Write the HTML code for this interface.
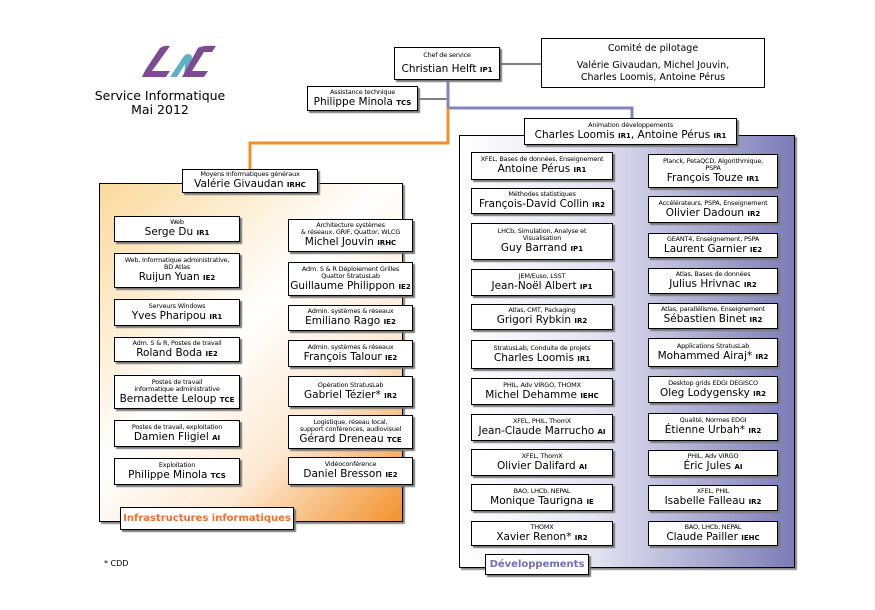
<!DOCTYPE html>
<html><head><meta charset="utf-8"><style>
body{margin:0;width:875px;height:610px;background:#fff;position:relative;overflow:hidden;font-family:"DejaVu Sans","Liberation Sans",sans-serif;color:#000}
.b{position:absolute;border:1px solid #000;background:#fff;box-shadow:2px 2px 1px #777;display:flex;flex-direction:column;align-items:center;justify-content:center;text-align:center;box-sizing:border-box;line-height:1.1}
.s{font-size:6.5px;letter-spacing:-0.2px}
.n{font-size:10.5px;margin-top:1px}
.g{font-size:7px;font-weight:bold}
.l{position:absolute}
</style></head><body>
<svg class="l" style="left:0;top:0" width="875" height="610">
<polyline points="500,64 541,64" stroke="#000" fill="none"/>
<polyline points="418,99 447,99" stroke="#000" fill="none"/>
<polyline points="448,80 448,108 632,108 632,120" stroke="#8383c0" stroke-width="3" fill="none"/>
<polyline points="448,108 448,143 250,143 250,170" stroke="#f0902a" stroke-width="3" fill="none"/>
<g transform="translate(140,44)">
<path d="M20,4 Q24,1 30,2 L12,27 L30,27 L26,33 L2,33 Q4,28 8,22 Z" fill="#7e4a92"/>
<path d="M30,33 L44,12 Q48,8 52,12 L50,33 L44,33 L45,20 L37,33 Z" fill="#5fb0c0"/>
<path d="M58,4 Q62,1 76,2 L72,8 L64,8 L52,27 L68,27 L64,33 L42,33 Z" fill="#7e4a92"/>
</g>
</svg>
<div class="l" style="left:85px;top:89px;width:150px;text-align:center;font-size:12.5px;line-height:14px">Service Informatique<br>Mai 2012</div>
<div class="l" style="left:104px;top:559px;font-size:8px">* CDD</div>

<div class="b" style="left:394px;top:47px;width:106px;height:33px"><span class="s">Chef de service</span><span class="n" style="margin-top:5px">Christian Helft <span class="g">IP1</span></span></div>
<div class="b" style="left:541px;top:38px;width:224px;height:50px;font-size:9.5px;line-height:12px;box-shadow:none"><div>Comité de pilotage</div><div style="margin-top:5px">Valérie Givaudan, Michel Jouvin,<br>Charles Loomis, Antoine Pérus</div></div>
<div class="b" style="left:307px;top:86px;width:111px;height:25px"><span class="s">Assistance technique</span><span class="n">Philippe Minola <span class="g">TCS</span></span></div>

<div class="b" style="left:99px;top:183px;width:304px;height:339px;background:linear-gradient(135deg,#fbd99a 0%,#fff 45%,#fde9d2 70%,#f2922e 100%);box-shadow:2px 2px 1px #888"></div>
<div class="b" style="left:182px;top:169px;width:136px;height:24px"><span class="s">Moyens Informatiques généraux</span><span class="n">Valérie Givaudan <span class="g">IRHC</span></span></div>
<div class="b" style="left:120px;top:507px;width:174px;height:23px;color:#f07030;font-weight:bold;font-size:10px">Infrastructures informatiques</div>

<div class="b" style="left:114px;top:216px;width:126px;height:26px"><span class="s">Web</span><span class="n">Serge Du <span class="g">IR1</span></span></div>
<div class="b" style="left:114px;top:253px;width:126px;height:35px"><span class="s">Web, Informatique administrative,<br>BD Atlas</span><span class="n">Ruijun Yuan <span class="g">IE2</span></span></div>
<div class="b" style="left:114px;top:299px;width:126px;height:27px"><span class="s">Serveurs Windows</span><span class="n">Yves Pharipou <span class="g">IR1</span></span></div>
<div class="b" style="left:114px;top:337px;width:126px;height:25px"><span class="s">Adm. S &amp; R, Postes de travail</span><span class="n">Roland Boda <span class="g">IE2</span></span></div>
<div class="b" style="left:114px;top:375px;width:126px;height:34px"><span class="s">Postes de travail<br>informatique administrative</span><span class="n">Bernadette Leloup <span class="g">TCE</span></span></div>
<div class="b" style="left:114px;top:420px;width:126px;height:27px"><span class="s">Postes de travail, exploitation</span><span class="n">Damien Fligiel <span class="g">AI</span></span></div>
<div class="b" style="left:114px;top:458px;width:126px;height:27px"><span class="s">Exploitation</span><span class="n">Philippe Minola <span class="g">TCS</span></span></div>

<div class="b" style="left:288px;top:219px;width:125px;height:33px"><span class="s">Architecture systèmes<br>&amp; réseaux, GRIF, Quattor, WLCG</span><span class="n">Michel Jouvin <span class="g">IRHC</span></span></div>
<div class="b" style="left:288px;top:262px;width:125px;height:34px"><span class="s">Adm. S &amp; R Déploiement Grilles<br>Quattor StratusLab</span><span class="n">Guillaume Philippon <span class="g">IE2</span></span></div>
<div class="b" style="left:288px;top:305px;width:125px;height:26px"><span class="s">Admin. systèmes &amp; réseaux</span><span class="n">Emiliano Rago <span class="g">IE2</span></span></div>
<div class="b" style="left:288px;top:340px;width:125px;height:27px"><span class="s">Admin. systèmes &amp; réseaux</span><span class="n">François Talour <span class="g">IE2</span></span></div>
<div class="b" style="left:288px;top:376px;width:125px;height:31px"><span class="s">Opération StratusLab</span><span class="n">Gabriel Tézier* <span class="g">IR2</span></span></div>
<div class="b" style="left:288px;top:415px;width:125px;height:34px"><span class="s">Logistique, réseau local,<br>support conférences, audiovisuel</span><span class="n">Gérard Dreneau <span class="g">TCE</span></span></div>
<div class="b" style="left:288px;top:457px;width:125px;height:28px"><span class="s">Vidéoconférence</span><span class="n">Daniel Bresson <span class="g">IE2</span></span></div>

<div class="b" style="left:459px;top:135px;width:336px;height:433px;background:linear-gradient(90deg,#fff 0%,#e4e4f2 40%,#7c7cb8 100%);box-shadow:2px 2px 1px #888"></div>
<div class="b" style="left:524px;top:118px;width:213px;height:27px"><span class="s">Animation développements</span><span class="n">Charles Loomis <span class="g">IR1</span>, Antoine Pérus <span class="g">IR1</span></span></div>
<div class="b" style="left:485px;top:554px;width:104px;height:21px;color:#7070b8;font-weight:bold;font-size:10px">Développements</div>

<div class="b" style="left:471px;top:152px;width:142px;height:28px"><span class="s">XFEL, Bases de données, Enseignement</span><span class="n">Antoine Pérus <span class="g">IR1</span></span></div>
<div class="b" style="left:471px;top:188px;width:142px;height:26px"><span class="s">Méthodes statistiques</span><span class="n">François-David Collin <span class="g">IR2</span></span></div>
<div class="b" style="left:471px;top:223px;width:142px;height:37px"><span class="s">LHCb, Simulation, Analyse et<br>Visualisation</span><span class="n">Guy Barrand <span class="g">IP1</span></span></div>
<div class="b" style="left:471px;top:269px;width:142px;height:27px"><span class="s">JEM/Euso, LSST</span><span class="n">Jean-Noël Albert <span class="g">IP1</span></span></div>
<div class="b" style="left:471px;top:304px;width:142px;height:26px"><span class="s">Atlas, CMT, Packaging</span><span class="n">Grigori Rybkin <span class="g">IR2</span></span></div>
<div class="b" style="left:471px;top:340px;width:142px;height:29px"><span class="s">StratusLab, Conduite de projets</span><span class="n">Charles Loomis <span class="g">IR1</span></span></div>
<div class="b" style="left:471px;top:378px;width:142px;height:27px"><span class="s">PHIL, Adv VIRGO, THOMX</span><span class="n">Michel Dehamme <span class="g">IEHC</span></span></div>
<div class="b" style="left:471px;top:414px;width:142px;height:27px"><span class="s">XFEL, PHIL, ThomX</span><span class="n">Jean-Claude Marrucho <span class="g">AI</span></span></div>
<div class="b" style="left:471px;top:449px;width:142px;height:27px"><span class="s">XFEL, ThomX</span><span class="n">Olivier Dalifard <span class="g">AI</span></span></div>
<div class="b" style="left:471px;top:484px;width:142px;height:27px"><span class="s">BAO, LHCb, NEPAL</span><span class="n">Monique Taurigna <span class="g">IE</span></span></div>
<div class="b" style="left:471px;top:521px;width:142px;height:25px"><span class="s">THOMX</span><span class="n">Xavier Renon* <span class="g">IR2</span></span></div>

<div class="b" style="left:648px;top:154px;width:130px;height:34px"><span class="s">Planck, PetaQCD, Algorithmique,<br>PSPA</span><span class="n">François Touze <span class="g">IR1</span></span></div>
<div class="b" style="left:648px;top:196px;width:130px;height:27px"><span class="s">Accélérateurs, PSPA, Enseignement</span><span class="n">Olivier Dadoun <span class="g">IR2</span></span></div>
<div class="b" style="left:648px;top:233px;width:130px;height:25px"><span class="s">GEANT4, Enseignement, PSPA</span><span class="n">Laurent Garnier <span class="g">IE2</span></span></div>
<div class="b" style="left:648px;top:268px;width:130px;height:26px"><span class="s">Atlas, Bases de données</span><span class="n">Julius Hrivnac <span class="g">IR2</span></span></div>
<div class="b" style="left:648px;top:303px;width:130px;height:26px"><span class="s">Atlas, parallélisme, Enseignement</span><span class="n">Sébastien Binet <span class="g">IR2</span></span></div>
<div class="b" style="left:648px;top:338px;width:130px;height:29px"><span class="s">Applications StratusLab</span><span class="n">Mohammed Airaj* <span class="g">IR2</span></span></div>
<div class="b" style="left:648px;top:376px;width:130px;height:27px"><span class="s">Desktop grids EDGI DEGISCO</span><span class="n">Oleg Lodygensky <span class="g">IR2</span></span></div>
<div class="b" style="left:648px;top:413px;width:130px;height:28px"><span class="s">Qualité, Normes EDGI</span><span class="n">Étienne Urbah* <span class="g">IR2</span></span></div>
<div class="b" style="left:648px;top:450px;width:130px;height:26px"><span class="s">PHIL, Adv VIRGO</span><span class="n">Éric Jules <span class="g">AI</span></span></div>
<div class="b" style="left:648px;top:485px;width:130px;height:26px"><span class="s">XFEL, PHIL</span><span class="n">Isabelle Falleau <span class="g">IR2</span></span></div>
<div class="b" style="left:648px;top:521px;width:130px;height:25px"><span class="s">BAO, LHCb, NEPAL</span><span class="n">Claude Pailler <span class="g">IEHC</span></span></div>
</body></html>
